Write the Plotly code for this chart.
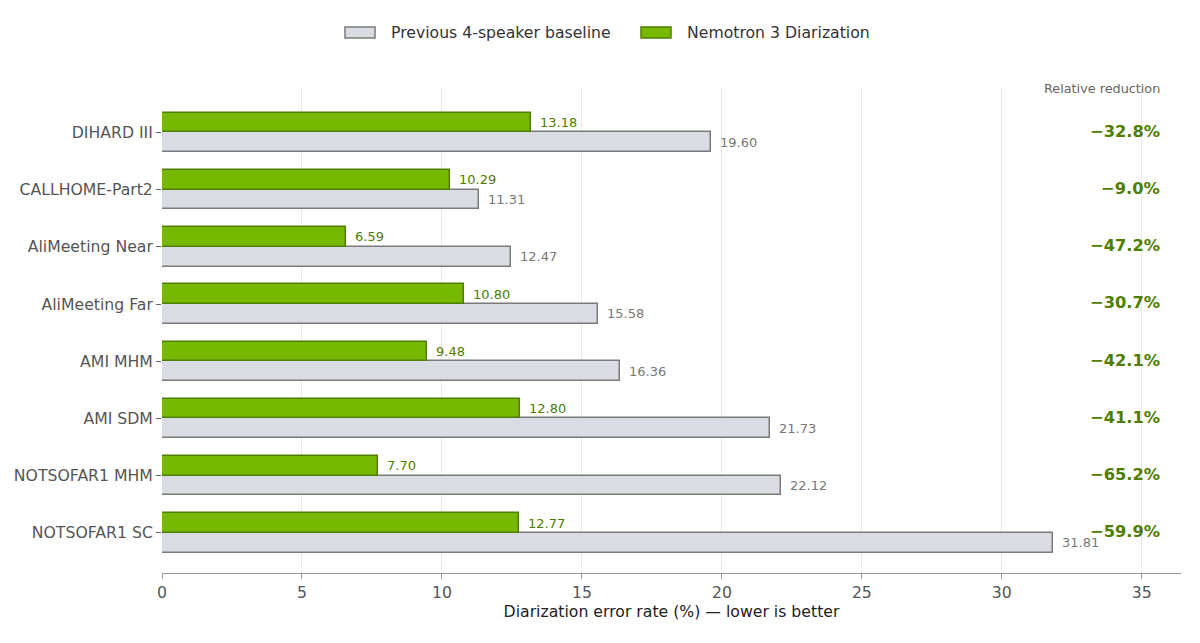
import plotly.graph_objects as go

categories = ["DIHARD III", "CALLHOME-Part2", "AliMeeting Near", "AliMeeting Far",
              "AMI MHM", "AMI SDM", "NOTSOFAR1 MHM", "NOTSOFAR1 SC"]
baseline = [19.60, 11.31, 12.47, 15.58, 16.36, 21.73, 22.12, 31.81]
nemotron = [13.18, 10.29, 6.59, 10.80, 9.48, 12.80, 7.70, 12.77]
relative = ["−32.8%", "−9.0%", "−47.2%", "−30.7%", "−42.1%", "−41.1%", "−65.2%", "−59.9%"]
x_ticks = [0, 5, 10, 15, 20, 25, 30, 35]
series_names = ["Previous 4-speaker baseline", "Nemotron 3 Diarization"]

FONT = "DejaVu Sans"
GREEN = "#76b900"
GREEN_EDGE = "#4f7f00"
GREEN_TXT = "#4e7d00"
GREY = "#d9dde3"
GREY_EDGE = "#7a7a7a"

W, H = 1200, 643
ML, MR, MT, MB = 162, 19, 88, 70
PW = W - ML - MR

pos = list(range(len(categories)))
BW = 0.345

fig = go.Figure()
fig.add_trace(go.Bar(
    name=series_names[0], orientation="h",
    y=pos, x=baseline, width=BW, offset=0,
    marker=dict(color=GREY, line=dict(color=GREY_EDGE, width=1.5)),
))
fig.add_trace(go.Bar(
    name=series_names[1], orientation="h",
    y=pos, x=nemotron, width=BW, offset=-BW,
    marker=dict(color=GREEN, line=dict(color=GREEN_EDGE, width=1.5)),
))

ann = []
for i, (b, n, r) in enumerate(zip(baseline, nemotron, relative)):
    ann.append(dict(x=n, y=i - BW / 2, xref="x", yref="y", text=f"{n:.2f}",
                    showarrow=False, xanchor="left", xshift=7,
                    font=dict(family=FONT, size=13, color=GREEN_TXT)))
    ann.append(dict(x=b, y=i + BW / 2, xref="x", yref="y", text=f"{b:.2f}",
                    showarrow=False, xanchor="left", xshift=7,
                    font=dict(family=FONT, size=13, color="#777777")))
    ann.append(dict(x=(1162 - ML) / PW, y=i - 0.02, xref="paper", yref="y", text=f"<b>{r}</b>",
                    showarrow=False, xanchor="right",
                    font=dict(family=FONT, size=16.3, color=GREEN_TXT)))
ann.append(dict(x=(1162 - ML) / PW, y=1.0, xref="paper", yref="paper", text="Relative reduction",
                showarrow=False, xanchor="right", yanchor="middle",
                font=dict(family=FONT, size=12.8, color="#666666")))

# custom legend (patches + labels), positioned in paper coords
shapes = []
leg_items = [(series_names[0], GREY, GREY_EDGE, 345, 389),
             (series_names[1], GREEN, GREEN_EDGE, 641, 685)]
def px_x(p):
    return (p - ML) / PW
def px_y(p):
    return 1 - (p - MT) / (H - MT - MB)
for name, fc, ec, rx, tx in leg_items:
    shapes.append(dict(type="rect", xref="paper", yref="paper",
                       x0=px_x(rx), x1=px_x(rx + 30), y0=px_y(38), y1=px_y(27),
                       fillcolor=fc, line=dict(color=ec, width=1.5), layer="above"))
    ann.append(dict(x=px_x(tx), y=px_y(32.5), xref="paper", yref="paper", text=name,
                    showarrow=False, xanchor="left", yanchor="middle",
                    font=dict(family=FONT, size=15.7, color="#333333")))

fig.update_layout(
    width=W, height=H,
    margin=dict(l=ML, r=MR, t=MT, b=MB, autoexpand=False),
    paper_bgcolor="white", plot_bgcolor="white",
    font=dict(family=FONT, color="#444444"),
    barmode="overlay",
    bargap=0,
    showlegend=False,
    annotations=ann,
    shapes=shapes,
)
fig.update_xaxes(range=[0, 36.4], tickvals=x_ticks, ticktext=[str(t) for t in x_ticks],
                 showgrid=True, gridcolor="#e8e8e8", gridwidth=1,
                 showline=True, linecolor="#9a9a9a", linewidth=1.2,
                 ticks="outside", ticklen=5, tickcolor="#9a9a9a",
                 tickfont=dict(family=FONT, size=15.7, color="#555555"),
                 zeroline=False, automargin=False,
                 title=dict(text="Diarization error rate (%) — lower is better",
                            font=dict(family=FONT, size=15.7, color="#222222"), standoff=5))
fig.update_yaxes(range=[7.70, -0.775], tickvals=pos, ticktext=categories,
                 showgrid=False, zeroline=False, showline=False,
                 ticks="outside", ticklen=5, tickcolor="#666666", automargin=False,
                 tickfont=dict(family=FONT, size=15.7, color="#555555"))

fig.write_html("out.html", config={"displayModeBar": False},
               post_script="document.body.style.margin='0px';document.body.style.padding='0px';")
